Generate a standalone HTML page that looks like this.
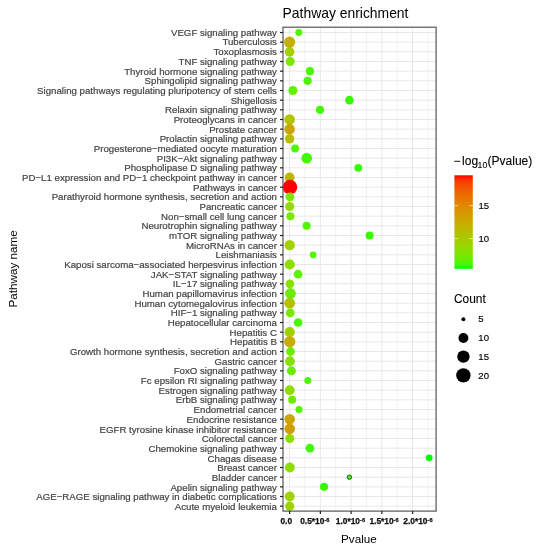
<!DOCTYPE html>
<html lang="en"><head><meta charset="utf-8"><title>Pathway enrichment</title>
<style>html,body{margin:0;padding:0;background:#fff}svg{display:block;will-change:transform}text{font-family:"Liberation Sans",sans-serif}.yl{font-size:9.68px;fill:#444;stroke:#444;stroke-width:0.2px;text-anchor:end}.xl{font-size:8.4px;font-weight:bold;fill:#111;stroke:#111;stroke-width:0.25px}.xs{font-size:5.6px}.lt{font-size:12px;fill:#000;stroke:#000;stroke-width:0.1px}.ll{font-size:9.6px;fill:#000;stroke:#000;stroke-width:0.15px}</style></head><body>
<svg width="539" height="550" viewBox="0 0 539 550">
<rect width="539" height="550" fill="#fff"/>
<text x="282.6" y="18.1" font-size="13.9" fill="#000">Pathway enrichment</text>
<g stroke="#e8e8e8" fill="none">
<line x1="283.0" x2="436.1" y1="32.50" y2="32.50" stroke-width="1"/>
<line x1="283.0" x2="436.1" y1="42.17" y2="42.17" stroke-width="1"/>
<line x1="283.0" x2="436.1" y1="51.83" y2="51.83" stroke-width="1"/>
<line x1="283.0" x2="436.1" y1="61.50" y2="61.50" stroke-width="1"/>
<line x1="283.0" x2="436.1" y1="71.17" y2="71.17" stroke-width="1"/>
<line x1="283.0" x2="436.1" y1="80.84" y2="80.84" stroke-width="1"/>
<line x1="283.0" x2="436.1" y1="90.50" y2="90.50" stroke-width="1"/>
<line x1="283.0" x2="436.1" y1="100.17" y2="100.17" stroke-width="1"/>
<line x1="283.0" x2="436.1" y1="109.84" y2="109.84" stroke-width="1"/>
<line x1="283.0" x2="436.1" y1="119.50" y2="119.50" stroke-width="1"/>
<line x1="283.0" x2="436.1" y1="129.17" y2="129.17" stroke-width="1"/>
<line x1="283.0" x2="436.1" y1="138.84" y2="138.84" stroke-width="1"/>
<line x1="283.0" x2="436.1" y1="148.50" y2="148.50" stroke-width="1"/>
<line x1="283.0" x2="436.1" y1="158.17" y2="158.17" stroke-width="1"/>
<line x1="283.0" x2="436.1" y1="167.84" y2="167.84" stroke-width="1"/>
<line x1="283.0" x2="436.1" y1="177.50" y2="177.50" stroke-width="1"/>
<line x1="283.0" x2="436.1" y1="187.17" y2="187.17" stroke-width="1"/>
<line x1="283.0" x2="436.1" y1="196.84" y2="196.84" stroke-width="1"/>
<line x1="283.0" x2="436.1" y1="206.51" y2="206.51" stroke-width="1"/>
<line x1="283.0" x2="436.1" y1="216.17" y2="216.17" stroke-width="1"/>
<line x1="283.0" x2="436.1" y1="225.84" y2="225.84" stroke-width="1"/>
<line x1="283.0" x2="436.1" y1="235.51" y2="235.51" stroke-width="1"/>
<line x1="283.0" x2="436.1" y1="245.17" y2="245.17" stroke-width="1"/>
<line x1="283.0" x2="436.1" y1="254.84" y2="254.84" stroke-width="1"/>
<line x1="283.0" x2="436.1" y1="264.51" y2="264.51" stroke-width="1"/>
<line x1="283.0" x2="436.1" y1="274.17" y2="274.17" stroke-width="1"/>
<line x1="283.0" x2="436.1" y1="283.84" y2="283.84" stroke-width="1"/>
<line x1="283.0" x2="436.1" y1="293.51" y2="293.51" stroke-width="1"/>
<line x1="283.0" x2="436.1" y1="303.18" y2="303.18" stroke-width="1"/>
<line x1="283.0" x2="436.1" y1="312.84" y2="312.84" stroke-width="1"/>
<line x1="283.0" x2="436.1" y1="322.51" y2="322.51" stroke-width="1"/>
<line x1="283.0" x2="436.1" y1="332.18" y2="332.18" stroke-width="1"/>
<line x1="283.0" x2="436.1" y1="341.84" y2="341.84" stroke-width="1"/>
<line x1="283.0" x2="436.1" y1="351.51" y2="351.51" stroke-width="1"/>
<line x1="283.0" x2="436.1" y1="361.18" y2="361.18" stroke-width="1"/>
<line x1="283.0" x2="436.1" y1="370.84" y2="370.84" stroke-width="1"/>
<line x1="283.0" x2="436.1" y1="380.51" y2="380.51" stroke-width="1"/>
<line x1="283.0" x2="436.1" y1="390.18" y2="390.18" stroke-width="1"/>
<line x1="283.0" x2="436.1" y1="399.85" y2="399.85" stroke-width="1"/>
<line x1="283.0" x2="436.1" y1="409.51" y2="409.51" stroke-width="1"/>
<line x1="283.0" x2="436.1" y1="419.18" y2="419.18" stroke-width="1"/>
<line x1="283.0" x2="436.1" y1="428.85" y2="428.85" stroke-width="1"/>
<line x1="283.0" x2="436.1" y1="438.51" y2="438.51" stroke-width="1"/>
<line x1="283.0" x2="436.1" y1="448.18" y2="448.18" stroke-width="1"/>
<line x1="283.0" x2="436.1" y1="457.85" y2="457.85" stroke-width="1"/>
<line x1="283.0" x2="436.1" y1="467.51" y2="467.51" stroke-width="1"/>
<line x1="283.0" x2="436.1" y1="477.18" y2="477.18" stroke-width="1"/>
<line x1="283.0" x2="436.1" y1="486.85" y2="486.85" stroke-width="1"/>
<line x1="283.0" x2="436.1" y1="496.52" y2="496.52" stroke-width="1"/>
<line x1="283.0" x2="436.1" y1="506.18" y2="506.18" stroke-width="1"/>
<line x1="289.60" x2="289.60" y1="27.2" y2="511.1" stroke-width="1"/>
<line x1="304.98" x2="304.98" y1="27.2" y2="511.1" stroke-width="0.6"/>
<line x1="320.35" x2="320.35" y1="27.2" y2="511.1" stroke-width="1"/>
<line x1="335.73" x2="335.73" y1="27.2" y2="511.1" stroke-width="0.6"/>
<line x1="351.10" x2="351.10" y1="27.2" y2="511.1" stroke-width="1"/>
<line x1="366.48" x2="366.48" y1="27.2" y2="511.1" stroke-width="0.6"/>
<line x1="381.85" x2="381.85" y1="27.2" y2="511.1" stroke-width="1"/>
<line x1="397.23" x2="397.23" y1="27.2" y2="511.1" stroke-width="0.6"/>
<line x1="412.60" x2="412.60" y1="27.2" y2="511.1" stroke-width="1"/>
<line x1="427.98" x2="427.98" y1="27.2" y2="511.1" stroke-width="0.6"/>
</g>
<g>
<circle cx="298.8" cy="32.50" r="3.45" fill="#50F600"/>
<circle cx="289.6" cy="42.17" r="5.60" fill="#C5AF00"/>
<circle cx="289.6" cy="51.83" r="4.80" fill="#A6CD00"/>
<circle cx="290.2" cy="61.50" r="4.50" fill="#7DE600"/>
<circle cx="309.9" cy="71.17" r="4.05" fill="#49F700"/>
<circle cx="307.6" cy="80.84" r="4.10" fill="#4CF600"/>
<circle cx="292.9" cy="90.50" r="4.55" fill="#60F100"/>
<circle cx="349.4" cy="100.17" r="4.30" fill="#38FA00"/>
<circle cx="320.0" cy="109.84" r="4.05" fill="#41F900"/>
<circle cx="289.6" cy="119.50" r="5.30" fill="#B0C400"/>
<circle cx="289.6" cy="129.17" r="5.30" fill="#CDA500"/>
<circle cx="289.6" cy="138.84" r="4.70" fill="#B8BD00"/>
<circle cx="295.1" cy="148.50" r="3.95" fill="#50F600"/>
<circle cx="306.7" cy="158.17" r="5.30" fill="#41F900"/>
<circle cx="358.3" cy="167.84" r="3.95" fill="#38FA00"/>
<circle cx="289.6" cy="177.50" r="4.90" fill="#C2B200"/>
<circle cx="290.0" cy="187.17" r="7.30" fill="#FF0000"/>
<circle cx="289.9" cy="196.84" r="4.40" fill="#7DE600"/>
<circle cx="289.7" cy="206.51" r="4.50" fill="#92DA00"/>
<circle cx="290.4" cy="216.17" r="4.00" fill="#7AE700"/>
<circle cx="306.6" cy="225.84" r="4.00" fill="#50F600"/>
<circle cx="369.6" cy="235.51" r="4.00" fill="#38FA00"/>
<circle cx="289.7" cy="245.17" r="5.20" fill="#9FD200"/>
<circle cx="313.1" cy="254.84" r="3.40" fill="#50F600"/>
<circle cx="289.7" cy="264.51" r="5.10" fill="#8DDD00"/>
<circle cx="298.1" cy="274.17" r="4.30" fill="#5BF200"/>
<circle cx="289.9" cy="283.84" r="4.35" fill="#87E100"/>
<circle cx="290.4" cy="293.51" r="5.40" fill="#6EEC00"/>
<circle cx="289.7" cy="303.18" r="5.40" fill="#B4C100"/>
<circle cx="290.2" cy="312.84" r="4.40" fill="#76E900"/>
<circle cx="298.1" cy="322.51" r="4.35" fill="#49F700"/>
<circle cx="289.7" cy="332.18" r="5.10" fill="#A1D000"/>
<circle cx="289.7" cy="341.84" r="5.65" fill="#C7AD00"/>
<circle cx="290.5" cy="351.51" r="4.40" fill="#6EEC00"/>
<circle cx="289.9" cy="361.18" r="4.90" fill="#87E100"/>
<circle cx="291.4" cy="370.84" r="4.50" fill="#6EEC00"/>
<circle cx="307.8" cy="380.51" r="3.50" fill="#50F600"/>
<circle cx="289.7" cy="390.18" r="4.90" fill="#90DC00"/>
<circle cx="292.2" cy="399.85" r="4.00" fill="#6EEC00"/>
<circle cx="299.0" cy="409.51" r="3.50" fill="#50F600"/>
<circle cx="289.7" cy="419.18" r="5.30" fill="#CDA500"/>
<circle cx="289.7" cy="428.85" r="5.30" fill="#D39E00"/>
<circle cx="289.7" cy="438.51" r="4.50" fill="#8DDD00"/>
<circle cx="309.9" cy="448.18" r="4.40" fill="#41F900"/>
<circle cx="429.2" cy="457.85" r="3.40" fill="#00FF00"/>
<circle cx="289.8" cy="467.51" r="4.95" fill="#8DDD00"/>
<circle cx="349.4" cy="477.18" r="2.2" fill="#38FA00" stroke="#1f4f1f" stroke-width="0.9"/>
<circle cx="324.1" cy="486.85" r="4.05" fill="#38FA00"/>
<circle cx="289.7" cy="496.52" r="4.95" fill="#9DD300"/>
<circle cx="289.7" cy="506.18" r="4.60" fill="#9DD300"/>
</g>
<rect x="283.0" y="27.2" width="153.10" height="483.90" fill="none" stroke="#555" stroke-width="1.2"/>
<g stroke="#1f1f1f" stroke-width="1.2">
<line x1="280.00" x2="283.0" y1="32.50" y2="32.50"/>
<line x1="280.00" x2="283.0" y1="42.17" y2="42.17"/>
<line x1="280.00" x2="283.0" y1="51.83" y2="51.83"/>
<line x1="280.00" x2="283.0" y1="61.50" y2="61.50"/>
<line x1="280.00" x2="283.0" y1="71.17" y2="71.17"/>
<line x1="280.00" x2="283.0" y1="80.84" y2="80.84"/>
<line x1="280.00" x2="283.0" y1="90.50" y2="90.50"/>
<line x1="280.00" x2="283.0" y1="100.17" y2="100.17"/>
<line x1="280.00" x2="283.0" y1="109.84" y2="109.84"/>
<line x1="280.00" x2="283.0" y1="119.50" y2="119.50"/>
<line x1="280.00" x2="283.0" y1="129.17" y2="129.17"/>
<line x1="280.00" x2="283.0" y1="138.84" y2="138.84"/>
<line x1="280.00" x2="283.0" y1="148.50" y2="148.50"/>
<line x1="280.00" x2="283.0" y1="158.17" y2="158.17"/>
<line x1="280.00" x2="283.0" y1="167.84" y2="167.84"/>
<line x1="280.00" x2="283.0" y1="177.50" y2="177.50"/>
<line x1="280.00" x2="283.0" y1="187.17" y2="187.17"/>
<line x1="280.00" x2="283.0" y1="196.84" y2="196.84"/>
<line x1="280.00" x2="283.0" y1="206.51" y2="206.51"/>
<line x1="280.00" x2="283.0" y1="216.17" y2="216.17"/>
<line x1="280.00" x2="283.0" y1="225.84" y2="225.84"/>
<line x1="280.00" x2="283.0" y1="235.51" y2="235.51"/>
<line x1="280.00" x2="283.0" y1="245.17" y2="245.17"/>
<line x1="280.00" x2="283.0" y1="254.84" y2="254.84"/>
<line x1="280.00" x2="283.0" y1="264.51" y2="264.51"/>
<line x1="280.00" x2="283.0" y1="274.17" y2="274.17"/>
<line x1="280.00" x2="283.0" y1="283.84" y2="283.84"/>
<line x1="280.00" x2="283.0" y1="293.51" y2="293.51"/>
<line x1="280.00" x2="283.0" y1="303.18" y2="303.18"/>
<line x1="280.00" x2="283.0" y1="312.84" y2="312.84"/>
<line x1="280.00" x2="283.0" y1="322.51" y2="322.51"/>
<line x1="280.00" x2="283.0" y1="332.18" y2="332.18"/>
<line x1="280.00" x2="283.0" y1="341.84" y2="341.84"/>
<line x1="280.00" x2="283.0" y1="351.51" y2="351.51"/>
<line x1="280.00" x2="283.0" y1="361.18" y2="361.18"/>
<line x1="280.00" x2="283.0" y1="370.84" y2="370.84"/>
<line x1="280.00" x2="283.0" y1="380.51" y2="380.51"/>
<line x1="280.00" x2="283.0" y1="390.18" y2="390.18"/>
<line x1="280.00" x2="283.0" y1="399.85" y2="399.85"/>
<line x1="280.00" x2="283.0" y1="409.51" y2="409.51"/>
<line x1="280.00" x2="283.0" y1="419.18" y2="419.18"/>
<line x1="280.00" x2="283.0" y1="428.85" y2="428.85"/>
<line x1="280.00" x2="283.0" y1="438.51" y2="438.51"/>
<line x1="280.00" x2="283.0" y1="448.18" y2="448.18"/>
<line x1="280.00" x2="283.0" y1="457.85" y2="457.85"/>
<line x1="280.00" x2="283.0" y1="467.51" y2="467.51"/>
<line x1="280.00" x2="283.0" y1="477.18" y2="477.18"/>
<line x1="280.00" x2="283.0" y1="486.85" y2="486.85"/>
<line x1="280.00" x2="283.0" y1="496.52" y2="496.52"/>
<line x1="280.00" x2="283.0" y1="506.18" y2="506.18"/>
<line x1="289.60" x2="289.60" y1="511.1" y2="514.00"/>
<line x1="320.35" x2="320.35" y1="511.1" y2="514.00"/>
<line x1="351.10" x2="351.10" y1="511.1" y2="514.00"/>
<line x1="381.85" x2="381.85" y1="511.1" y2="514.00"/>
<line x1="412.60" x2="412.60" y1="511.1" y2="514.00"/>
</g>
<g class="yl">
<text x="276.9" y="35.80">VEGF signaling pathway</text>
<text x="276.9" y="45.48">Tuberculosis</text>
<text x="276.9" y="55.15">Toxoplasmosis</text>
<text x="276.9" y="64.83">TNF signaling pathway</text>
<text x="276.9" y="74.50">Thyroid hormone signaling pathway</text>
<text x="276.9" y="84.18">Sphingolipid signaling pathway</text>
<text x="276.9" y="93.86">Signaling pathways regulating pluripotency of stem cells</text>
<text x="276.9" y="103.53">Shigellosis</text>
<text x="276.9" y="113.21">Relaxin signaling pathway</text>
<text x="276.9" y="122.89">Proteoglycans in cancer</text>
<text x="276.9" y="132.56">Prostate cancer</text>
<text x="276.9" y="142.24">Prolactin signaling pathway</text>
<text x="276.9" y="151.91">Progesterone−mediated oocyte maturation</text>
<text x="276.9" y="161.59">PI3K−Akt signaling pathway</text>
<text x="276.9" y="171.27">Phospholipase D signaling pathway</text>
<text x="276.9" y="180.94">PD−L1 expression and PD−1 checkpoint pathway in cancer</text>
<text x="276.9" y="190.62">Pathways in cancer</text>
<text x="276.9" y="200.30">Parathyroid hormone synthesis, secretion and action</text>
<text x="276.9" y="209.97">Pancreatic cancer</text>
<text x="276.9" y="219.65">Non−small cell lung cancer</text>
<text x="276.9" y="229.32">Neurotrophin signaling pathway</text>
<text x="276.9" y="239.00">mTOR signaling pathway</text>
<text x="276.9" y="248.68">MicroRNAs in cancer</text>
<text x="276.9" y="258.35">Leishmaniasis</text>
<text x="276.9" y="268.03">Kaposi sarcoma−associated herpesvirus infection</text>
<text x="276.9" y="277.70">JAK−STAT signaling pathway</text>
<text x="276.9" y="287.38">IL−17 signaling pathway</text>
<text x="276.9" y="297.06">Human papillomavirus infection</text>
<text x="276.9" y="306.73">Human cytomegalovirus infection</text>
<text x="276.9" y="316.41">HIF−1 signaling pathway</text>
<text x="276.9" y="326.09">Hepatocellular carcinoma</text>
<text x="276.9" y="335.76">Hepatitis C</text>
<text x="276.9" y="345.44">Hepatitis B</text>
<text x="276.9" y="355.11">Growth hormone synthesis, secretion and action</text>
<text x="276.9" y="364.79">Gastric cancer</text>
<text x="276.9" y="374.47">FoxO signaling pathway</text>
<text x="276.9" y="384.14">Fc epsilon RI signaling pathway</text>
<text x="276.9" y="393.82">Estrogen signaling pathway</text>
<text x="276.9" y="403.49">ErbB signaling pathway</text>
<text x="276.9" y="413.17">Endometrial cancer</text>
<text x="276.9" y="422.85">Endocrine resistance</text>
<text x="276.9" y="432.52">EGFR tyrosine kinase inhibitor resistance</text>
<text x="276.9" y="442.20">Colorectal cancer</text>
<text x="276.9" y="451.88">Chemokine signaling pathway</text>
<text x="276.9" y="461.55">Chagas disease</text>
<text x="276.9" y="471.23">Breast cancer</text>
<text x="276.9" y="480.90">Bladder cancer</text>
<text x="276.9" y="490.58">Apelin signaling pathway</text>
<text x="276.9" y="500.26">AGE−RAGE signaling pathway in diabetic complications</text>
<text x="276.9" y="509.93">Acute myeloid leukemia</text>
</g>
<g class="xl">
<text x="280.4" y="524.4">0.0</text>
<text x="300.2" y="524.4">0.5*10<tspan class="xs" dy="-2.5">-6</tspan></text>
<text x="335.8" y="524.4">1.0*10<tspan class="xs" dy="-2.5">-6</tspan></text>
<text x="369.4" y="524.4">1.5*10<tspan class="xs" dy="-2.5">-6</tspan></text>
<text x="403.3" y="524.4">2.0*10<tspan class="xs" dy="-2.5">-6</tspan></text>
</g>
<text x="358.9" y="542.7" font-size="11.7" text-anchor="middle" fill="#000">Pvalue</text>
<text transform="translate(17.1,268.9) rotate(-90)" font-size="11.7" text-anchor="middle" fill="#000">Pathway name</text>
<defs><linearGradient id="cg" x1="0" y1="1" x2="0" y2="0">
<stop offset="0.00" stop-color="#00FF00"/>
<stop offset="0.05" stop-color="#49F700"/>
<stop offset="0.10" stop-color="#65EF00"/>
<stop offset="0.15" stop-color="#7AE700"/>
<stop offset="0.20" stop-color="#8ADF00"/>
<stop offset="0.25" stop-color="#98D700"/>
<stop offset="0.30" stop-color="#A4CE00"/>
<stop offset="0.35" stop-color="#AEC600"/>
<stop offset="0.40" stop-color="#B8BD00"/>
<stop offset="0.45" stop-color="#C1B400"/>
<stop offset="0.50" stop-color="#C9AB00"/>
<stop offset="0.55" stop-color="#D0A100"/>
<stop offset="0.60" stop-color="#D79800"/>
<stop offset="0.65" stop-color="#DD8D00"/>
<stop offset="0.70" stop-color="#E38200"/>
<stop offset="0.75" stop-color="#E87600"/>
<stop offset="0.80" stop-color="#ED6A00"/>
<stop offset="0.85" stop-color="#F25B00"/>
<stop offset="0.90" stop-color="#F74A00"/>
<stop offset="0.95" stop-color="#FB3300"/>
<stop offset="1.00" stop-color="#FF0000"/>
</linearGradient></defs>
<text class="lt" x="453.4" y="165.0">−</text>
<text class="lt" x="462.1" y="165.0">log</text>
<text class="lt" x="477.5" y="167.5" style="font-size:8.8px">10</text>
<text class="lt" x="487.6" y="165.0">(Pvalue)</text>
<rect x="454.4" y="175.3" width="18.4" height="93.5" fill="url(#cg)"/>
<g stroke="#fff" stroke-width="0.6">
<line x1="454.4" x2="458.1" y1="205.7" y2="205.7"/><line x1="469.1" x2="472.8" y1="205.7" y2="205.7"/>
<line x1="454.4" x2="458.1" y1="238.5" y2="238.5"/><line x1="469.1" x2="472.8" y1="238.5" y2="238.5"/>
</g>
<text class="ll" x="478.4" y="209.3">15</text>
<text class="ll" x="478.4" y="242.0">10</text>
<text class="lt" x="454.0" y="302.6" style="font-size:11.9px">Count</text>
<circle cx="463.4" cy="319.2" r="1.95" fill="#000"/>
<text class="ll" x="478.3" y="322.40">5</text>
<circle cx="463.4" cy="338.0" r="4.95" fill="#000"/>
<text class="ll" x="478.3" y="341.20">10</text>
<circle cx="463.4" cy="356.6" r="6.2" fill="#000"/>
<text class="ll" x="478.3" y="359.80">15</text>
<circle cx="463.4" cy="375.4" r="7.2" fill="#000"/>
<text class="ll" x="478.3" y="378.60">20</text>
</svg></body></html>
